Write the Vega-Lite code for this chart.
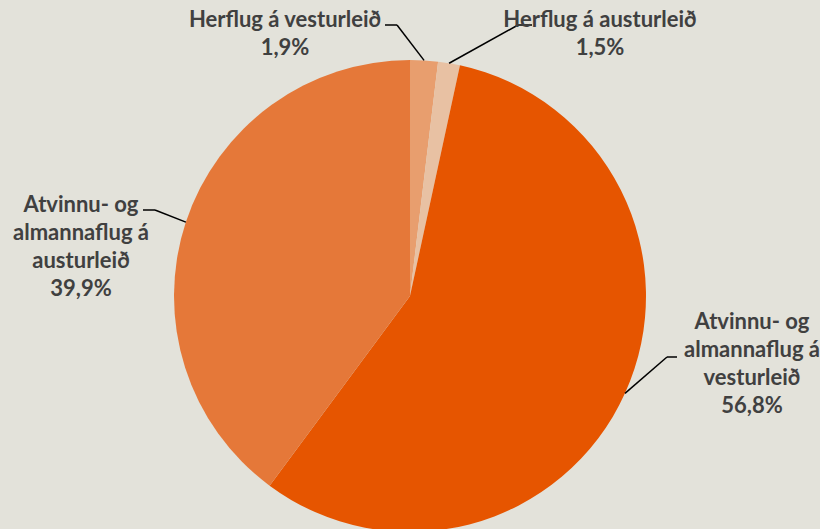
{
  "$schema": "https://vega.github.io/schema/vega-lite/v6.json",
  "width": 820,
  "height": 592,
  "autosize": {"type": "none"},
  "padding": 0,
  "background": "#E3E2DA",
  "config": {"view": {"stroke": null}},
  "data": {
    "values": [
      {"kat": "Herflug á vesturleið", "hlutfall": 1.9},
      {"kat": "Herflug á austurleið", "hlutfall": 1.5},
      {"kat": "Atvinnu- og|almannaflug á|vesturleið", "hlutfall": 56.8},
      {"kat": "Atvinnu- og|almannaflug á|austurleið", "hlutfall": 39.9}
    ]
  },
  "transform": [
    {"window": [{"op": "row_number", "as": "i"}]},
    {"window": [{"op": "sum", "field": "hlutfall", "as": "cum"}], "sort": [{"field": "i"}], "frame": [null, 0]},
    {"joinaggregate": [{"op": "sum", "field": "hlutfall", "as": "tot"}]},
    {"calculate": "(datum.cum - datum.hlutfall / 2) / datum.tot * 2 * PI", "as": "mid"},
    {"calculate": "236 * sin(datum.mid)", "as": "ex"},
    {"calculate": "236 * cos(datum.mid)", "as": "ey"},
    {"calculate": "datum.i == 1 ? -13 : datum.i == 2 ? 108 : datum.i == 3 ? 257 : -255", "as": "bx"},
    {"calculate": "datum.i == 1 ? 271 : datum.i == 2 ? 271 : datum.i == 3 ? -61 : 86", "as": "by"},
    {"calculate": "datum.i == 1 ? -25 : datum.i == 2 ? 122 : datum.i == 3 ? 267 : -267", "as": "tx"},
    {"calculate": "datum.i == 1 ? -125 : datum.i == 2 ? 190 : datum.i == 3 ? 342 : -329", "as": "lx"},
    {"calculate": "datum.i == 1 ? 276 : datum.i == 2 ? 276 : datum.i == 3 ? -26 : 91", "as": "ly"},
    {"calculate": "datum.kat + '|' + replace(format(datum.hlutfall, '.1f'), '.', ',') + '%'", "as": "txt"}
  ],
  "layer": [
    {
      "mark": {"type": "arc", "radius": 236},
      "encoding": {
        "theta": {"field": "hlutfall", "type": "quantitative", "stack": true},
        "order": {"field": "i", "type": "quantitative"},
        "color": {
          "field": "kat",
          "type": "nominal",
          "legend": null,
          "scale": {
            "domain": ["Herflug á vesturleið", "Herflug á austurleið", "Atvinnu- og|almannaflug á|vesturleið", "Atvinnu- og|almannaflug á|austurleið"],
            "range": ["#E89E6E", "#E8C1A3", "#E65500", "#E57839"]
          }
        }
      }
    },
    {
      "mark": {"type": "rule", "stroke": "#000000", "strokeWidth": 1.5},
      "encoding": {
        "x": {"field": "ex", "type": "quantitative", "axis": null, "scale": {"domain": [-410, 410], "nice": false, "zero": false}},
        "y": {"field": "ey", "type": "quantitative", "axis": null, "scale": {"domain": [-296, 296], "nice": false, "zero": false}},
        "x2": {"field": "bx"},
        "y2": {"field": "by"}
      }
    },
    {
      "mark": {"type": "rule", "stroke": "#000000", "strokeWidth": 1.5},
      "encoding": {
        "x": {"field": "bx", "type": "quantitative"},
        "y": {"field": "by", "type": "quantitative"},
        "x2": {"field": "tx"},
        "y2": {"field": "by"}
      }
    },
    {
      "mark": {"type": "text", "font": "Lato", "fontWeight": "bold", "fontSize": 22, "color": "#404040", "lineBreak": "|", "lineHeight": 28, "align": "center", "baseline": "middle"},
      "encoding": {
        "x": {"field": "lx", "type": "quantitative"},
        "y": {"field": "ly", "type": "quantitative"},
        "text": {"field": "txt"}
      }
    }
  ]
}
